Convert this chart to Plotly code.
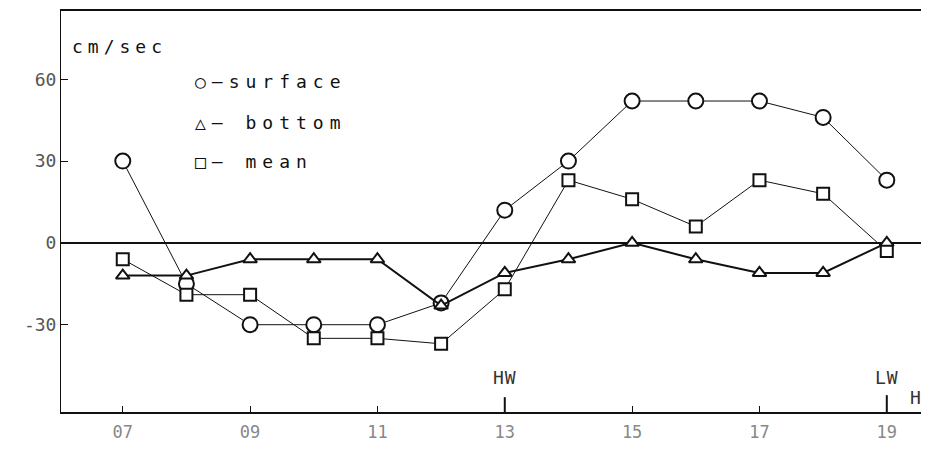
import plotly.graph_objects as go

# hours of observation
hours = [7, 8, 9, 10, 11, 12, 13, 14, 15, 16, 17, 18, 19]

# current speed, cm/sec
surface = [30, -15, -30, -30, -30, -22, 12, 30, 52, 52, 52, 46, 23]
bottom = [-12, -12, -6, -6, -6, -23, -11, -6, 0, -6, -11, -11, 0]
mean = [-6, -19, -19, -35, -35, -37, -17, 23, 16, 6, 23, 18, -3]

x_ticks = [7, 9, 11, 13, 15, 17, 19]
x_labels = ["07", "09", "11", "13", "15", "17", "19"]
y_ticks = [-30, 0, 30, 60]
y_labels = ["-30", "0", "30", "60"]

legend_rows = ["○–surface", "△– bottom", "□– mean"]
legend_y = [59, 44, 30]
tide_marks = [(13, "HW", 0.037), (19, "LW", 0.042)]

FONT = "DejaVu Sans Mono"
INK = "#111111"


def spaced(s, px=4):
    return f'<span style="letter-spacing:{px}px">{s}</span>'


fig = go.Figure()


def add_series(y, symbol, size, lw):
    fig.add_trace(go.Scatter(
        x=hours, y=y,
        mode="lines+markers",
        line=dict(color=INK, width=lw),
        marker=dict(symbol=symbol, size=size, color="white",
                    line=dict(color=INK, width=2)),
        showlegend=False,
        cliponaxis=False,
    ))


add_series(surface, "circle", 15, 1)
add_series(mean, "square", 12, 1)
add_series(bottom, "triangle-up", 12, 2)

# legend drawn as text, like the original figure
for row, yv in zip(legend_rows, legend_y):
    fig.add_annotation(
        xref="x", yref="y", x=8.1, y=yv,
        text=spaced(row, 6), showarrow=False, xanchor="left",
        font=dict(family=FONT, size=18, color=INK),
    )

fig.add_annotation(
    xref="x", yref="y", x=6.17, y=72,
    text=spaced("cm/sec", 5), showarrow=False, xanchor="left",
    font=dict(family=FONT, size=18, color=INK),
)

# high / low water markers
for hr, label, tick_h in tide_marks:
    fig.add_shape(type="line", xref="x", yref="paper", x0=hr, x1=hr,
                  y0=0, y1=tick_h, line=dict(color=INK, width=2))
    fig.add_annotation(
        xref="x", yref="paper", x=hr, y=0.087, yanchor="middle",
        text=spaced(label, 1), showarrow=False,
        font=dict(family=FONT, size=18, color="#333333"),
    )
fig.add_annotation(
    xref="x", yref="paper", x=19.33, y=0.035, yanchor="middle",
    xanchor="left", text="H", showarrow=False,
    font=dict(family=FONT, size=18, color="#333333"),
)

# the page body adds an 8px margin, so the figure is 8px smaller
fig.update_layout(
    width=921, height=442,
    margin=dict(l=53, r=4, t=1, b=38),
    plot_bgcolor="white", paper_bgcolor="white",
    font=dict(family=FONT, color="#444444", size=18),
    xaxis=dict(
        range=[6.03, 19.6],
        tickvals=x_ticks, ticktext=x_labels,
        ticks="inside", ticklen=6, tickwidth=1, tickcolor=INK,
        showgrid=False, zeroline=False,
        showline=True, linecolor=INK, linewidth=2, mirror=True,
        tickfont=dict(color="#888888", size=17),
        ticklabelstandoff=4,
    ),
    yaxis=dict(
        range=[-62, 85],
        tickvals=y_ticks, ticktext=y_labels,
        ticks="inside", ticklen=7, tickwidth=1, tickcolor=INK,
        showgrid=False,
        zeroline=True, zerolinecolor=INK, zerolinewidth=2,
        showline=True, linecolor=INK, linewidth=1, mirror=True,
        tickfont=dict(color="#555555", size=18),
    ),
)

fig.write_html("out.html")
